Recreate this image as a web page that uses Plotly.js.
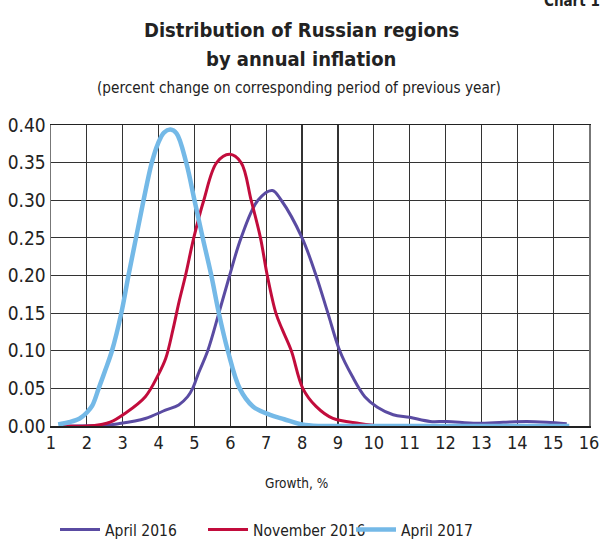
<!DOCTYPE html>
<html>
<head>
<meta charset="utf-8">
<script src="https://cdn.plot.ly/plotly-3.0.1.min.js"></script>
<style>html,body{margin:0;padding:0;background:#fff;}#chart{width:602px;height:539px;}</style>
</head>
<body>
<div id="chart"></div>
<script>
// April 2016
const apr16X = [1.3, 2.5, 2.88, 3.63, 4.19, 4.56, 4.81, 4.95, 5.11, 5.37, 5.68, 5.98, 6.30, 6.77, 7.17, 7.42, 8.0, 8.39, 8.72, 9.05, 9.4, 9.75, 10.1, 10.54, 11.0, 11.57, 12.03, 12.87, 13.61, 14.26, 14.82, 15.38];
const apr16Y = [0.0, 0.001, 0.003, 0.010, 0.021, 0.028, 0.039, 0.05, 0.07, 0.10, 0.15, 0.20, 0.25, 0.30, 0.313, 0.30, 0.25, 0.20, 0.15, 0.10, 0.066, 0.039, 0.025, 0.015, 0.0115, 0.006, 0.006, 0.0035, 0.005, 0.006, 0.005, 0.003];
// November 2016
const nov16X = [1.25, 2.0, 2.4, 2.65, 3.07, 3.63, 3.99, 4.2, 4.4, 4.57, 4.75, 4.98, 5.26, 5.62, 5.98, 6.30, 6.58, 6.84, 7.03, 7.27, 7.45, 7.70, 8.02, 8.39, 8.86, 9.6, 10.0];
const nov16Y = [0.0, 0.0, 0.002, 0.005, 0.017, 0.039, 0.068, 0.09, 0.128, 0.165, 0.20, 0.25, 0.30, 0.35, 0.361, 0.35, 0.30, 0.25, 0.20, 0.15, 0.128, 0.10, 0.05, 0.026, 0.010, 0.0035, 0.001];
// April 2017
const apr17X = [1.2, 1.5, 1.8, 2.0, 2.15, 2.33, 2.52, 2.70, 2.96, 3.16, 3.37, 3.58, 3.81, 3.98, 4.15, 4.33, 4.5, 4.77, 5.0, 5.23, 5.47, 5.68, 5.93, 6.26, 6.63, 7.09, 7.5, 8.0, 8.5, 9.0, 10.0, 11.0, 12.0, 13.0, 14.0, 15.0, 15.45];
const apr17Y = [0.002, 0.005, 0.010, 0.018, 0.027, 0.05, 0.075, 0.10, 0.15, 0.20, 0.25, 0.30, 0.35, 0.375, 0.39, 0.394, 0.389, 0.35, 0.30, 0.25, 0.20, 0.15, 0.10, 0.05, 0.026, 0.015, 0.009, 0.002, 0.0, 0.0, 0.0, 0.0, 0.0, 0.0, 0.0, 0.0, 0.0];

const seriesNames = ['April 2016', 'November 2016', 'April 2017'];
const xTicks = [1,2,3,4,5,6,7,8,9,10,11,12,13,14,15,16];
const yTicks = [0, 0.05, 0.10, 0.15, 0.20, 0.25, 0.30, 0.35, 0.40];
const yTickText = ['0.00','0.05','0.10','0.15','0.20','0.25','0.30','0.35','0.40'];

const FONT = '"Liberation Sans Narrow", "DejaVu Sans Condensed", "Arial Narrow", sans-serif';
const py = p => (426 - p) / 301;   // pixel row -> paper y
const px = p => (p - 51) / 538;    // pixel column -> paper x

const traces = [
  {x: apr16X, y: apr16Y, name: seriesNames[0], mode: 'lines', line: {color: '#5a4ba2', width: 3, shape: 'spline', smoothing: 1}},
  {x: nov16X, y: nov16Y, name: seriesNames[1], mode: 'lines', line: {color: '#c20c3c', width: 3, shape: 'spline', smoothing: 1}},
  {x: apr17X, y: apr17Y, name: seriesNames[2], mode: 'lines', line: {color: '#74b9e7', width: 4.5, shape: 'spline', smoothing: 1}}
];

const layout = {
  width: 602, height: 539,
  paper_bgcolor: '#fff', plot_bgcolor: '#fff',
  font: {family: FONT, color: '#222'},
  margin: {l: 51, r: 13, t: 125, b: 113, autoexpand: false},
  showlegend: true,
  legend: {orientation: 'h', x: px(55), xanchor: 'left', y: py(530), yanchor: 'middle',
           font: {size: 15.5, family: FONT, color: '#222'}, itemwidth: 40,
           entrywidth: 93, entrywidthmode: 'pixels', bgcolor: 'rgba(0,0,0,0)'},
  xaxis: {range: [1, 16], tickvals: xTicks, ticktext: xTicks.map(String), showgrid: true,
          gridcolor: '#333', gridwidth: 1.2, zeroline: false, showline: true, linecolor: '#222', linewidth: 1.5,
          mirror: true, ticks: '', tickfont: {size: 18, family: FONT, color: '#222'}, fixedrange: true},
  yaxis: {range: [0, 0.4], tickvals: yTicks, ticktext: yTickText, showgrid: true,
          gridcolor: '#333', gridwidth: 1.2, zeroline: false, showline: true, linecolor: '#777', linewidth: 1.5,
          mirror: true, ticks: '', tickfont: {size: 19, family: FONT, color: '#222'}, fixedrange: true},
  annotations: [
    {text: '<b>Distribution of Russian regions</b>', xref: 'paper', yref: 'paper',
     x: px(301), y: py(30), xanchor: 'center', yanchor: 'middle', showarrow: false,
     font: {size: 20, family: FONT, color: '#222'}},
    {text: '<b>by annual inflation</b>', xref: 'paper', yref: 'paper',
     x: px(301), y: py(59), xanchor: 'center', yanchor: 'middle', showarrow: false,
     font: {size: 20, family: FONT, color: '#222'}},
    {text: '(percent change on corresponding period of previous year)', xref: 'paper', yref: 'paper',
     x: px(299), y: py(88), xanchor: 'center', yanchor: 'middle', showarrow: false,
     font: {size: 15.2, family: FONT, color: '#222'}},
    {text: '<b>Chart 1</b>', xref: 'paper', yref: 'paper', x: px(602), y: py(1),
     xanchor: 'right', yanchor: 'middle', showarrow: false, font: {size: 15, family: FONT, color: '#222'}},
    {text: 'Growth, %', xref: 'paper', yref: 'paper', x: px(296), y: py(483),
     xanchor: 'center', yanchor: 'middle', showarrow: false, font: {size: 13.5, family: FONT, color: '#222'}}
  ]
};

Plotly.newPlot('chart', traces, layout, {displayModeBar: false, staticPlot: true});
</script>
</body>
</html>
